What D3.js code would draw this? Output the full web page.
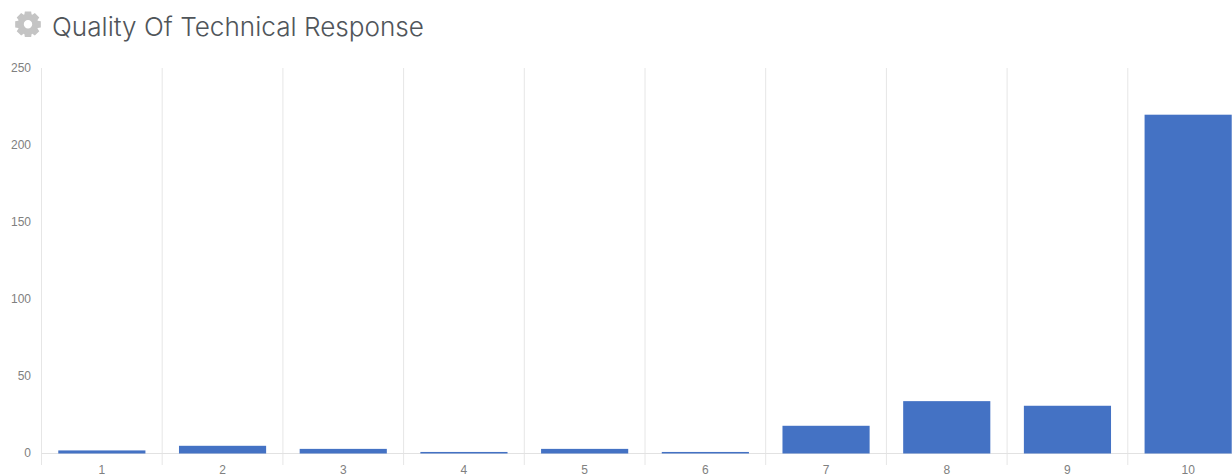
<!DOCTYPE html>
<html><head><meta charset="utf-8">
<script src="https://cdn.jsdelivr.net/npm/d3@7"></script>
<style>html,body{margin:0;padding:0;background:#fff;overflow:hidden}svg{display:block}</style>
</head><body><svg id="c" width="1232" height="476"></svg>
<script>
const titleText = "Quality Of Technical Response";
const categories = ["1","2","3","4","5","6","7","8","9","10"];
const values = [2,5,3,1,3,1,18,34,31,220];
const yTicks = [0,50,100,150,200,250];

const svg = d3.select("#c");
const x = d3.scaleBand().domain(categories).range([41.5,1248.5]).paddingInner(0.278).paddingOuter(0.139);
const y = d3.scaleLinear().domain([0,250]).range([453.5,68.5]);
const step = x.step();

// gear icon
const gear = d3.path();
const cx=28, cy=24.3, teeth=8, ro=13.2, ri=10.4;
for(let i=0;i<teeth;i++){
  const a=i*2*Math.PI/teeth-Math.PI/2, w=0.24, g=0.36;
  const pts=[[ri,a-g],[ro,a-w],[ro,a+w],[ri,a+g]];
  pts.forEach((p,j)=>{
    const px=cx+p[0]*Math.cos(p[1]), py=cy+p[0]*Math.sin(p[1]);
    if(i===0&&j===0) gear.moveTo(px,py); else gear.lineTo(px,py);
  });
}
gear.closePath();
gear.moveTo(cx+4.2,cy); gear.arc(cx,cy,4.2,0,2*Math.PI,true); gear.closePath();
svg.append("path").attr("d",gear.toString()).attr("fill","#c4c4c4").attr("fill-rule","evenodd");

svg.append("text").attr("x",52).attr("y",36).attr("font-family","Inter, sans-serif").attr("font-weight",300)
  .attr("font-size",26).attr("fill","#50555a").attr("textLength",372).attr("lengthAdjust","spacingAndGlyphs").text(titleText);

// vertical grid lines
const edges = categories.map(c=>x(c)-step*x.paddingInner()/2);
svg.append("g").selectAll("line").data(edges).join("line")
  .attr("x1",d=>d).attr("x2",d=>d).attr("y1",68).attr("y2",465)
  .attr("stroke","#e6e6e6").attr("stroke-width",1);

// baseline
svg.append("line").attr("x1",41.5).attr("x2",1232).attr("y1",y(0)).attr("y2",y(0))
  .attr("stroke","#e2e2e2").attr("stroke-width",1);

// bars
svg.append("g").selectAll("rect").data(values).join("rect")
  .attr("x",(d,i)=>x(categories[i])).attr("width",x.bandwidth())
  .attr("y",d=>y(d)).attr("height",d=>y(0)-y(d)).attr("fill","#4472c4");

// y axis labels
const font="'Liberation Sans', Arial, sans-serif";
svg.append("g").selectAll("text").data(yTicks).join("text")
  .attr("x",31).attr("y",d=>y(d)-1).attr("dy","0.35em").attr("text-anchor","end")
  .attr("font-family",font).attr("font-size",12).attr("fill","#808080").text(d=>d);

// x axis labels
svg.append("g").selectAll("text").data(categories).join("text")
  .attr("x",d=>x(d)+x.bandwidth()/2).attr("y",474)
  .attr("text-anchor","middle").attr("font-family",font).attr("font-size",12).attr("fill","#808080").text(d=>d);
</script></body></html>
